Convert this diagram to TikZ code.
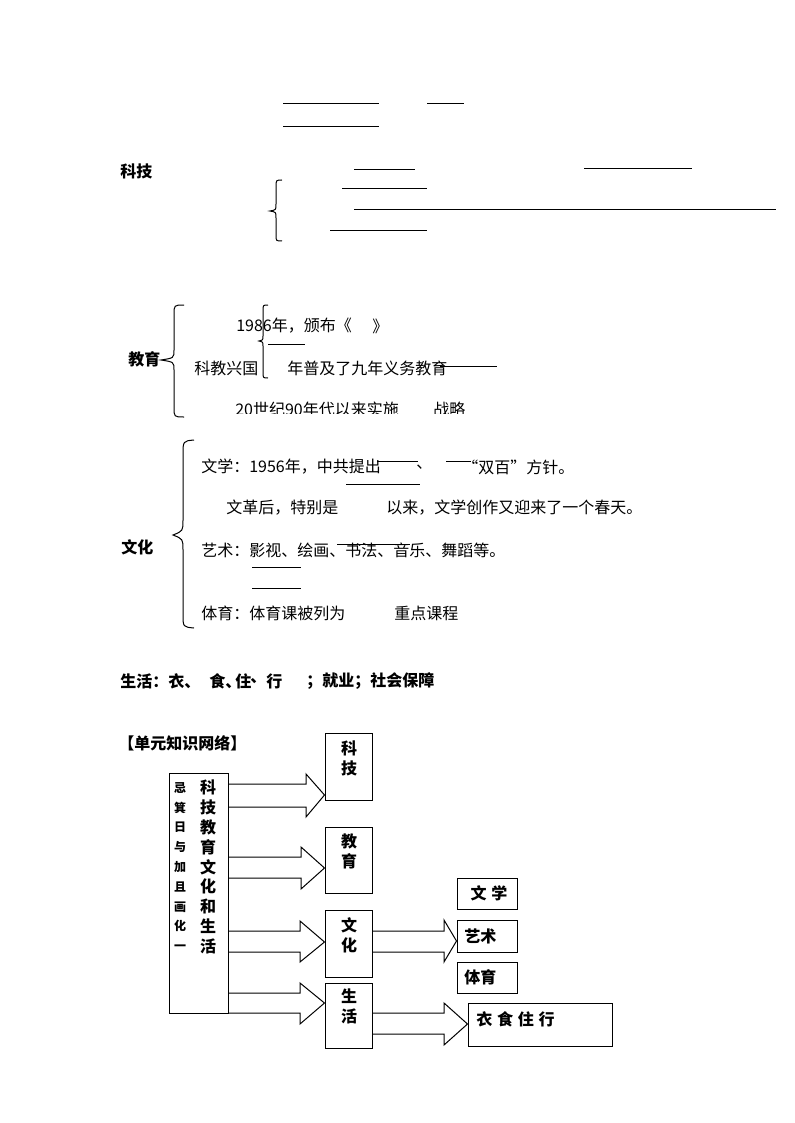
\documentclass[tikz,border=0pt]{standalone}
\usepackage{fontspec}
\setmainfont{Noto Sans CJK SC}
\tikzset{
  txt/.style={anchor=west, inner sep=0pt, font=\fontsize{12}{14}\selectfont},
  lbl/.style={anchor=west, inner sep=0pt, font=\fontsize{12}{14}\selectfont\bfseries},
  box/.style n args={2}{draw, line width=0.75pt, minimum width=#1, minimum height=#2, inner sep=0pt},
  blank/.style={line width=0.75pt},
  brc/.style={line width=0.75pt},
  blk/.style={line width=0.75pt, line join=miter},
  vtxt/.style={anchor=north, inner sep=0pt, align=center, font=\fontsize{12}{15}\selectfont\bfseries}
}
\begin{document}
\begin{tikzpicture}[x=0.75pt, y=-0.75pt]
\useasboundingbox (0,0) rectangle (794,1123);
\fill[white] (0,0) rectangle (794,1123);

% ---------- top blanks ----------
\draw[blank] (283,104) -- (379,104);
\draw[blank] (427,104) -- (464,104);
\draw[blank] (283,127) -- (379,127);

% ---------- 科技 ----------
\node[lbl] (kjl) at (120,171) {科技};
\draw[blank] (354,170) -- (415,170);
\draw[blank] (584,169) -- (692,169);
\draw[blank] (342,189) -- (427,189);
\draw[blank] (354,210) -- (776,210);
\draw[blank] (330,231) -- (427,231);
\draw[brc] (282,180) .. controls (276,180) .. (276,187) -- (276,204) .. controls (276,210) .. (270,211) .. controls (276,212) .. (276,218) -- (276,235) .. controls (276,241) .. (282,241);

% ---------- 教育 ----------
\node[lbl] (jyl) at (128,359) {教育};
\draw[brc] (184,305) .. controls (174,305) .. (174,315) -- (174,350) .. controls (174,358) .. (161,360) .. controls (174,362) .. (174,370) -- (174,407) .. controls (174,417) .. (184,417);
\node[txt] (e1) at (236,326) {1986年，颁布《};
\node[txt] (e1b) at (372,326) {》};
\draw[brc] (268,305) .. controls (263,305) .. (263,311) -- (263,336) .. controls (263,340) .. (259,341) .. controls (263,342) .. (263,346) -- (263,372) .. controls (263,378) .. (268,378);
\draw[blank] (268,344) -- (305,344);
\node[txt] (e2) at (194,368) {科教兴国};
\node[txt] (e3) at (287,368) {年普及了九年义务教育};
\draw[blank] (440,366) -- (497,366);
\begin{scope}
\clip (200,395) rectangle (520,413);
\node[txt] (e4) at (235,409) {20世纪90年代以来实施};
\node[txt] (e5) at (433,409) {战略};
\end{scope}

% ---------- 文化 ----------
\node[lbl] (whl) at (121,547) {文化};
\draw[brc] (194,440) .. controls (183,441) .. (183,455) -- (183,520) .. controls (183,531) .. (173,535) .. controls (183,539) .. (183,550) -- (183,614) .. controls (183,627) .. (194,628);
\node[txt] (c1) at (201,467) {文学：1956年，中共提出};
\node[txt] (c1b) at (416,467) {、};
\node[txt] (c1c) at (462,467) {“双百”方针。};
\draw[blank] (377,461) -- (418,461);
\draw[blank] (446,461) -- (471,461);
\draw[blank] (346,484) -- (420,484);
\node[txt] (c2) at (226,508) {文革后，特别是};
\node[txt] (c2b) at (386,508) {以来，文学创作又迎来了一个春天。};
\node[txt] (c3) at (201,550) {艺术：影视、绘画、书法、音乐、舞蹈等。};
\draw[blank] (337,544) -- (410,544);
\draw[blank] (252,567) -- (301,567);
\draw[blank] (252,588) -- (301,588);
\node[txt] (c4) at (201,613) {体育：体育课被列为};
\node[txt] (c4b) at (394,613) {重点课程};

% ---------- 生活 ----------
\node[lbl] (shl) at (120,681) {生活：衣、};
\node[lbl] (sh2) at (209,681) {食、};
\node[lbl] (sh3) at (235,681) {住};
\node[lbl] (sh4) at (250,681) {、};
\node[lbl] (sh5) at (266,681) {行};
\node[lbl] (sh6) at (306,681) {；就业；社会保障};

% ---------- network ----------
\node[lbl] (net) at (118,743) {【单元知识网络】};

\node[box={44.25pt}{180pt}] (big) at (198.5,893) {};
\node[vtxt, font=\fontsize{12}{14.85}\selectfont\bfseries] (bigr) at (208,780) {科\\技\\教\\育\\文\\化\\和\\生\\活};
\node[vtxt, font=\fontsize{9}{14.85}\selectfont\bfseries] (bigl) at (180,782) {忌\\箕\\日\\与\\加\\且\\画\\化\\一};

\node[box={35.25pt}{50.25pt}] (kj) at (348.5,766.5) {};
\node[vtxt] (kjt) at (349,741) {科\\技};
\node[box={35.25pt}{49.5pt}] (jy) at (348.5,860) {};
\node[vtxt] (jyt) at (349,834) {教\\育};
\node[box={35.25pt}{50.25pt}] (wh) at (348.5,943.5) {};
\node[vtxt] (wht) at (349,917) {文\\化};
\node[box={35.25pt}{48.75pt}] (sh) at (348.5,1015.5) {};
\node[vtxt] (sht) at (349,989) {生\\活};

\node[box={45pt}{23.25pt}] (wx) at (487,893.5) {};
\node[lbl, anchor=center] (wxt) at (489,893) {文\hspace{0.3em}学};
\node[box={45pt}{24pt}] (ys) at (487,936) {};
\node[lbl] (yst) at (464,936) {艺术};
\node[box={45pt}{23.25pt}] (ty) at (487,977.5) {};
\node[lbl] (tyt) at (464,977) {体育};
\node[box={108pt}{32.25pt}] (yszx) at (540,1024.5) {};
\node[lbl] (yszxt) at (476,1019) {衣\hspace{0.3em}食\hspace{0.3em}住\hspace{0.3em}行};

% block arrows
\draw[blk] (big.east|-0,784) -- (306,784) -- (306,774) -- (kj.west|-0,795) -- (306,817) -- (306,807) -- (big.east|-0,807);
\draw[blk] (big.east|-0,857) -- (301,857) -- (301,847) -- (jy.west|-0,868) -- (301,889) -- (301,878) -- (big.east|-0,878);
\draw[blk] (big.east|-0,931) -- (300,931) -- (300,921) -- (wh.west|-0,942) -- (300,962) -- (300,952) -- (big.east|-0,952);
\draw[blk] (big.east|-0,993) -- (300,993) -- (300,983) -- (sh.west|-0,1003) -- (300,1024) -- (300,1013) -- (big.east|-0,1013);
\draw[blk] (wh.east|-0,931) -- (444,931) -- (444,920) -- (ys.west|-0,941) -- (444,962) -- (444,952) -- (wh.east|-0,952);
\draw[blk] (sh.east|-0,1013) -- (444,1013) -- (444,1003) -- (yszx.west|-0,1024) -- (444,1045) -- (444,1034) -- (sh.east|-0,1034);
\end{tikzpicture}
\end{document}
